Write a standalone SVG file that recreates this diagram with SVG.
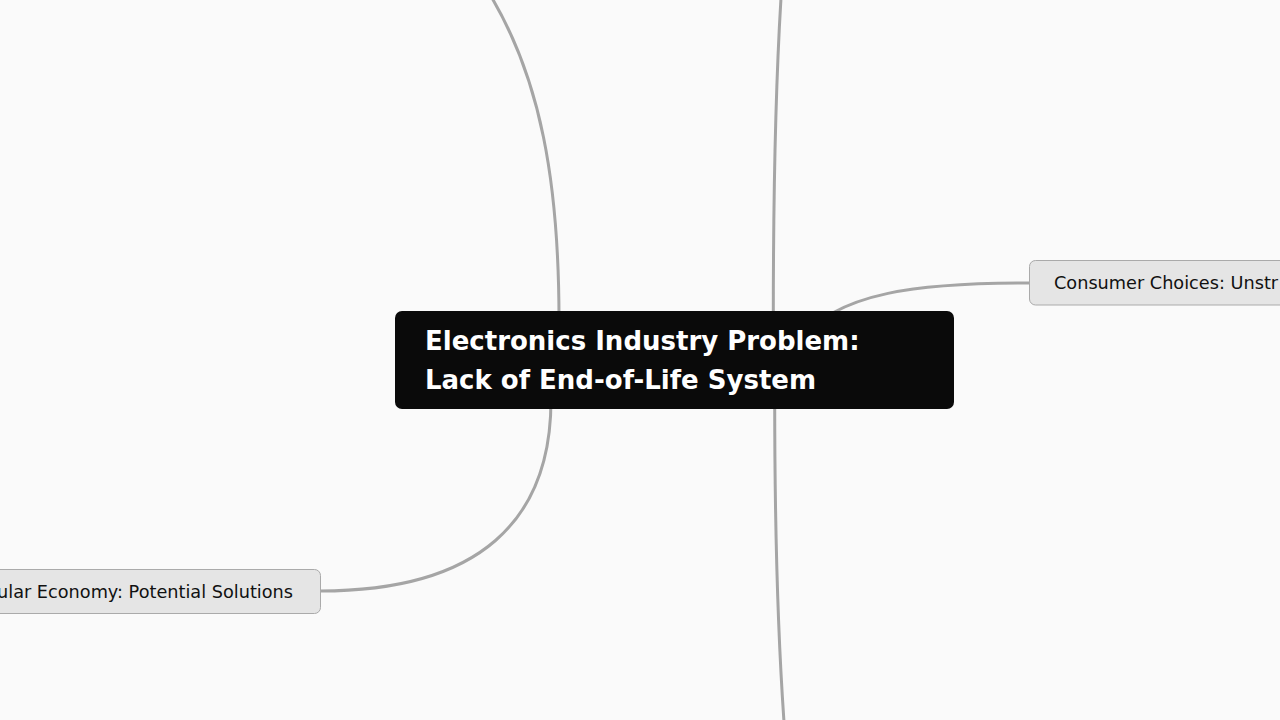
<svg xmlns="http://www.w3.org/2000/svg" width="1280" height="720" viewBox="0 0 1280 720">
<style>
.bg{fill:#fafafa}
.conn{fill:none;stroke:#a5a5a5;stroke-width:3}
.root rect{fill:#0a0a0a}
.root text{font-family:"DejaVu Sans",sans-serif;font-weight:bold;font-size:26px;fill:#ffffff}
.child rect{fill:#e5e5e5;stroke:#aaaaaa;stroke-width:1}
.child text{font-family:"DejaVu Sans",sans-serif;font-size:17.7px;fill:#111111}
</style>
<rect class="bg" x="0" y="0" width="1280" height="720"/>
<g id="connectors">
<path class="conn" d="M559 320 C559 180 540 80 492 -2"/>
<path class="conn" d="M773.3 320 C773.3 200 776 80 781 -2"/>
<path class="conn" d="M795 345 C835 290 925 283 1029 283"/>
<path class="conn" d="M320 591 C480 591 551 520 551 400"/>
<path class="conn" d="M774.7 400 C774.7 550 779 650 784 722"/>
</g>
<g id="node-root" class="root">
<rect x="395" y="311" width="559" height="98" rx="7"/>
<text x="425" y="350">Electronics Industry Problem:</text>
<text x="425" y="389">Lack of End-of-Life System</text>
</g>
<g id="node-consumer" class="child">
<rect x="1029.5" y="260.5" width="300" height="44.5" rx="6"/>
<text x="1054" y="289">Consumer Choices: Unstr</text>
</g>
<g id="node-circular" class="child">
<rect x="-60" y="569.5" width="380.5" height="44" rx="6"/>
<text x="293" y="598" text-anchor="end">ular Economy: Potential Solutions</text>
</g>
</svg>
